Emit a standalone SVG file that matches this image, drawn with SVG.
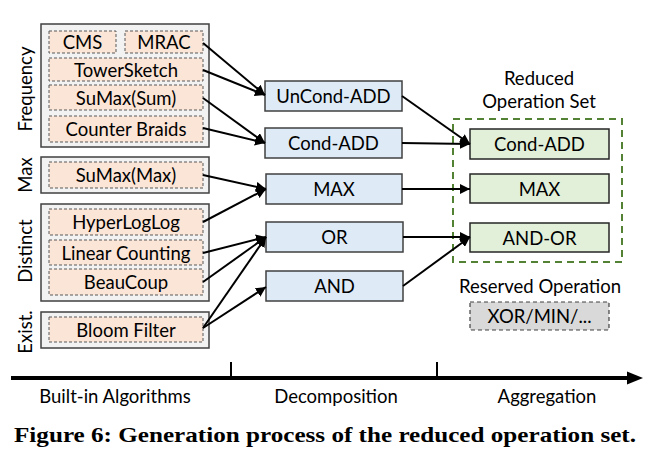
<svg xmlns="http://www.w3.org/2000/svg" width="665" height="460" viewBox="0 0 665 460">
<style>
text{font-family:Lato,"Open Sans","Liberation Sans",sans-serif;font-size:18.5px;fill:#000;}
.c{text-anchor:middle;dominant-baseline:central;}
.grp{fill:#f2f2f2;stroke:#404040;stroke-width:1.5;}
.alg{fill:#fbe5d6;stroke:#595959;stroke-width:1;stroke-dasharray:3,2;}
.dec{fill:#deebf7;stroke:#404040;stroke-width:1.5;}
.agg{fill:#e2f0d9;stroke:#262626;stroke-width:1.5;}
.res{fill:#d9d9d9;stroke:#404040;stroke-width:1.2;stroke-dasharray:4,3;}
.set{fill:none;stroke:#548235;stroke-width:2;stroke-dasharray:7,5;}
.con line{stroke:#000;stroke-width:2;marker-end:url(#ah);}
.cap{font-family:"Liberation Serif","Times New Roman",serif;font-weight:bold;font-size:22px;}
</style>
<defs>
<marker id="ah" viewBox="0 0 10 10" refX="10" refY="5" markerWidth="5" markerHeight="5" orient="auto" markerUnits="strokeWidth">
<path d="M0,0 L10,5 L0,10 z" fill="#000"/>
</marker>
</defs>

<g id="group-frequency">
<rect class="grp" x="41" y="24" width="168" height="123"/>
<text transform="translate(32,89) rotate(-90)" text-anchor="middle">Frequency</text>
</g>
<g id="group-max">
<rect class="grp" x="41" y="157" width="168" height="36"/>
<text transform="translate(32,175) rotate(-90)" text-anchor="middle">Max</text>
</g>
<g id="group-distinct">
<rect class="grp" x="41" y="204" width="168" height="97"/>
<text transform="translate(32,251) rotate(-90)" text-anchor="middle">Distinct</text>
</g>
<g id="group-exist">
<rect class="grp" x="41" y="312" width="168" height="36"/>
<text transform="translate(32,332) rotate(-90)" text-anchor="middle">Exist.</text>
</g>

<g id="cms"><rect class="alg" x="49" y="31" width="67" height="22"/><text class="c" x="82.5" y="42">CMS</text></g>
<g id="mrac"><rect class="alg" x="125" y="31" width="78" height="22"/><text class="c" x="164" y="42">MRAC</text></g>
<g id="towersketch"><rect class="alg" x="49" y="58" width="154" height="23"/><text class="c" x="126" y="69.5">TowerSketch</text></g>
<g id="sumax-sum"><rect class="alg" x="49" y="85" width="154" height="25"/><text class="c" x="126" y="97.5">SuMax(Sum)</text></g>
<g id="counter-braids"><rect class="alg" x="49" y="116" width="154" height="26"/><text class="c" x="126" y="129">Counter Braids</text></g>
<g id="sumax-max"><rect class="alg" x="49" y="162" width="154" height="26"/><text class="c" x="126" y="175">SuMax(Max)</text></g>
<g id="hyperloglog"><rect class="alg" x="49" y="209" width="154" height="26"/><text class="c" x="126" y="222">HyperLogLog</text></g>
<g id="linear-counting"><rect class="alg" x="49" y="240" width="154" height="25"/><text class="c" x="126" y="252.5">Linear Counting</text></g>
<g id="beaucoup"><rect class="alg" x="49" y="269" width="154" height="26"/><text class="c" x="126" y="282">BeauCoup</text></g>
<g id="bloom-filter"><rect class="alg" x="49" y="317" width="154" height="25"/><text class="c" x="126" y="329.5">Bloom Filter</text></g>

<g id="uncond-add"><rect class="dec" x="265" y="81" width="137" height="30"/><text class="c" x="333.5" y="96">UnCond-ADD</text></g>
<g id="cond-add"><rect class="dec" x="265" y="128" width="137" height="30"/><text class="c" x="333.5" y="143">Cond-ADD</text></g>
<g id="max"><rect class="dec" x="266" y="174" width="136" height="30"/><text class="c" x="334" y="189">MAX</text></g>
<g id="or"><rect class="dec" x="266" y="222" width="137" height="30"/><text class="c" x="334.5" y="237">OR</text></g>
<g id="and"><rect class="dec" x="266" y="271" width="137" height="30"/><text class="c" x="334.5" y="286">AND</text></g>

<g id="reduced-operation-set">
<rect class="set" x="453" y="119" width="169" height="143"/>
<text x="539" y="85" text-anchor="middle">Reduced</text>
<text x="539" y="108" text-anchor="middle">Operation Set</text>
</g>
<g id="agg-cond-add"><rect class="agg" x="470" y="129" width="139" height="30"/><text class="c" x="539.5" y="144">Cond-ADD</text></g>
<g id="agg-max"><rect class="agg" x="470" y="174" width="139" height="29"/><text class="c" x="539.5" y="188.5">MAX</text></g>
<g id="agg-and-or"><rect class="agg" x="470" y="223" width="139" height="29"/><text class="c" x="539.5" y="237.5">AND-OR</text></g>

<g id="reserved-operation">
<text x="540" y="293" text-anchor="middle">Reserved Operation</text>
<rect class="res" x="470" y="302" width="139" height="28"/>
<text class="c" x="539.5" y="316">XOR/MIN/...</text>
</g>

<g id="connectors" class="con">
<line x1="203" y1="43" x2="265" y2="95"/>
<line x1="203" y1="70" x2="265" y2="95"/>
<line x1="203" y1="98" x2="265" y2="143"/>
<line x1="203" y1="128" x2="265" y2="143"/>
<line x1="203" y1="175" x2="266" y2="189"/>
<line x1="203" y1="222" x2="266" y2="189"/>
<line x1="203" y1="253" x2="266" y2="237"/>
<line x1="203" y1="282" x2="266" y2="237"/>
<line x1="203" y1="328" x2="266" y2="237"/>
<line x1="203" y1="328" x2="266" y2="287"/>
<line x1="402" y1="96" x2="470" y2="144"/>
<line x1="402" y1="143" x2="470" y2="144"/>
<line x1="402" y1="189" x2="470" y2="189"/>
<line x1="403" y1="237" x2="470" y2="237"/>
<line x1="403" y1="286" x2="470" y2="237"/>
</g>

<g id="timeline">
<line x1="11" y1="378" x2="630" y2="378" stroke="#000" stroke-width="4"/>
<path d="M627,371.5 L643,378 L627,384.5 z" fill="#000"/>
<line x1="231" y1="362" x2="231" y2="378" stroke="#000" stroke-width="2"/>
<line x1="437" y1="362" x2="437" y2="378" stroke="#000" stroke-width="2"/>
<text x="115" y="403" text-anchor="middle">Built-in Algorithms</text>
<text x="336" y="403" text-anchor="middle">Decomposition</text>
<text x="547" y="403" text-anchor="middle">Aggregation</text>
</g>

<text class="cap" x="14" y="442" textLength="622" lengthAdjust="spacingAndGlyphs">Figure 6: Generation process of the reduced operation set.</text>
</svg>
